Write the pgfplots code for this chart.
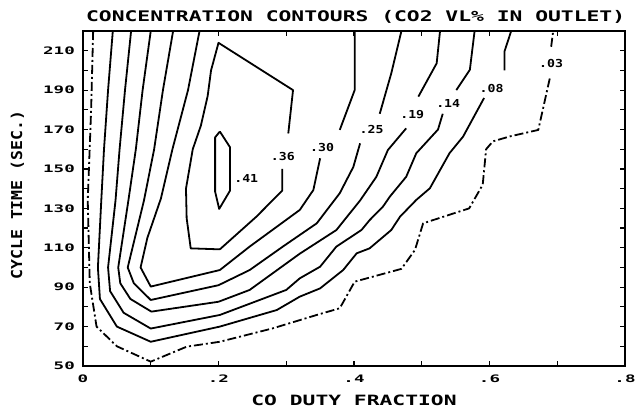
\documentclass[border=0pt]{standalone}
\usepackage{fontspec}
\usepackage{pgfplots}
\pgfplotsset{compat=1.18}
\newfontfamily\titlefont{DejaVu Sans Mono}[FakeStretch=1.46]
\newfontfamily\xlabfont{DejaVu Sans Mono}[FakeStretch=1.5]
\newfontfamily\ylabfont{DejaVu Sans Mono}[FakeStretch=1.1]
\newfontfamily\tickfont{DejaVu Sans Mono}[FakeStretch=1.7]
\newfontfamily\cfont{DejaVu Sans Mono}[FakeStretch=1.2]
\tikzset{clab/.style={font=\fontsize{11bp}{12bp}\cfont\bfseries, inner sep=0pt}}
\begin{document}
\begin{tikzpicture}
\begin{axis}[
  scale only axis, width=542bp, height=335bp,
  xmin=0, xmax=0.8, ymin=50, ymax=220,
  xtick={0,0.1,0.2,0.3,0.4,0.5,0.6,0.7,0.8},
  xticklabels={0,,.2,,.4,,.6,,.8},
  ytick={50,60,70,80,90,100,110,120,130,140,150,160,170,180,190,200,210,220},
  yticklabels={50,,70,,90,,110,,130,,150,,170,,190,,210,},
  tick pos=both, tick align=inside, major tick length=5bp,
  tick style={line width=1.2bp, black},
  axis line style={line width=2bp},
  ticklabel style={font=\fontsize{10.3bp}{11bp}\tickfont\bfseries},
  xticklabel style={anchor=center, yshift=-13bp},
  yticklabel style={anchor=east, inner sep=0pt, xshift=-8bp},
  title={CONCENTRATION CONTOURS (CO2 VL\% IN OUTLET)},
  title style={at={(axis description cs:0.503,1.024)}, anchor=center, inner sep=0pt, font=\fontsize{14.6bp}{16bp}\titlefont\bfseries},
  xlabel={CO DUTY FRACTION},
  xlabel style={at={(axis description cs:0.5,-0.101)}, anchor=center, inner sep=0pt, font=\fontsize{14.2bp}{16bp}\xlabfont\bfseries},
  ylabel={CYCLE TIME (SEC.)},
  ylabel style={at={(axis description cs:-0.121,0.51)}, anchor=center, inner sep=0pt, font=\fontsize{15bp}{16bp}\ylabfont\bfseries},
  cycle list={{black,solid,mark=none}},
  every axis plot/.append style={black, line width=1.8bp, line join=round, mark=none},
]
% .03 (dash-dot)
\addplot[dash pattern=on 9bp off 3bp on 2bp off 3bp] coordinates {
(0.015,220) (0.012,180) (0.007,134) (0.010,92) (0.020,70) (0.050,60) (0.100,52.2) (0.153,59.8) (0.202,62.3) (0.280,69.1) (0.345,75.9) (0.379,79.3) (0.401,92.8) (0.470,99.3) (0.490,108.9) (0.502,122.4) (0.570,130) (0.590,142) (0.595,160) (0.605,164) (0.630,166.5) (0.672,169.8) (0.689,196)};
\addplot[dash pattern=on 9bp off 3bp on 2bp off 3bp] coordinates {(0.691,212) (0.694,220)};
% .08
\addplot coordinates {
(0.044,220) (0.037,190) (0.031,160) (0.027,134) (0.022,100) (0.025,84) (0.05,70) (0.1,62.3) (0.202,70) (0.286,78.4) (0.32,85.2) (0.35,89.4) (0.384,98.7) (0.404,107.2) (0.423,109.7) (0.455,119) (0.468,125.8) (0.492,134.3) (0.512,140.2) (0.541,158) (0.561,166.4) (0.592,186)};
\addplot coordinates {(0.622,200) (0.622,209.5) (0.632,220)};
% .14
\addplot coordinates {
(0.071,220) (0.062,190) (0.054,160) (0.048,134) (0.037,100) (0.040,88) (0.060,77) (0.1,69) (0.202,75.9) (0.30,88.6) (0.32,94.5) (0.35,100.4) (0.374,110.6) (0.411,119) (0.423,124) (0.443,131) (0.453,136) (0.477,146) (0.492,158) (0.524,170) (0.531,178)};
\addplot coordinates {(0.551,190) (0.571,200.3) (0.578,220)};
% .19
\addplot coordinates {
(0.100,220) (0.088,190) (0.078,160) (0.067,134) (0.052,100) (0.055,92) (0.070,84) (0.101,77.6) (0.200,82.6) (0.246,88.6) (0.320,107) (0.374,119) (0.409,134) (0.433,146) (0.450,159.6) (0.477,170.6)};
\addplot coordinates {(0.495,186.7) (0.522,203.6) (0.527,220)};
% .25
\addplot coordinates {
(0.133,220) (0.118,190) (0.105,160) (0.090,134) (0.066,100) (0.075,92) (0.100,83.5) (0.200,91) (0.246,98.7) (0.295,110.6) (0.345,122.4) (0.379,137.7) (0.399,151) (0.409,163)};
\addplot coordinates {(0.438,178) (0.455,198.5) (0.470,220)};
% .30
\addplot coordinates {
(0.172,220) (0.155,190) (0.132,160) (0.115,135) (0.095,115) (0.085,100) (0.100,90.3) (0.202,98.7) (0.246,110.6) (0.320,129.2) (0.340,139.3) (0.350,155.4)};
\addplot coordinates {(0.379,169.8) (0.401,190) (0.401,220)};
% .36
\addplot coordinates {(0.202,109.2) (0.256,125.8) (0.294,139) (0.294,150)};
\addplot coordinates {
(0.303,168) (0.310,190) (0.200,214) (0.189,200) (0.184,187) (0.174,172) (0.162,160) (0.152,140) (0.153,125) (0.159,109.7) (0.202,109.2)};
% .41
\addplot coordinates {(0.202,169) (0.217,161) (0.217,139) (0.201,129.7) (0.195,138.5) (0.195,166) (0.202,169)};
% labels
\node[clab] at (axis cs:0.691,203.7) {.03};
\node[clab] at (axis cs:0.603,191) {.08};
\node[clab] at (axis cs:0.539,183.3) {.14};
\node[clab] at (axis cs:0.486,177.4) {.19};
\node[clab] at (axis cs:0.426,169.8) {.25};
\node[clab] at (axis cs:0.353,160.8) {.30};
\node[clab] at (axis cs:0.295,156.3) {.36};
\node[clab] at (axis cs:0.241,145.3) {.41};
\end{axis}
\pgfresetboundingbox
\path[use as bounding box] (current axis.south west) ++(-83bp,-41bp) rectangle ++(635bp,407bp);
\end{tikzpicture}
\end{document}
